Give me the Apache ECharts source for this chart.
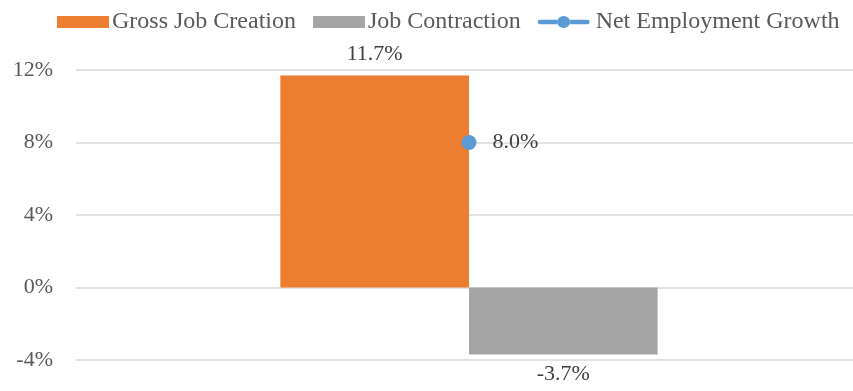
<!DOCTYPE html>
<html>
<head>
<meta charset="utf-8">
<script src="https://cdn.jsdelivr.net/npm/echarts@6/dist/echarts.min.js"></script>
<style>
html,body{margin:0;padding:0;background:#fff;}
#chart{width:853px;height:391px;}
</style>
</head>
<body>
<div id="chart"></div>
<script>
// Employment dynamics, single period
const categories = [''];
const grossJobCreation = [11.7];
const jobContraction = [-3.7];
const netEmploymentGrowth = [8.0];
const yTicks = [-4, 0, 4, 8, 12];

const font = '"Liberation Serif", "Times New Roman", serif';
const textColor = '#595959';
const labelColor = '#404040';
const pct1 = p => p.value.toFixed(1) + '%';

// legend marker for the line series: thick round-capped segment with a dot in the middle
const lineDotIcon = 'path://M2.5,4H19.5V9H2.5a2.5,2.5 0 0,1 0,-5Z' +
  'M32.5,4H49.5a2.5,2.5 0 0,1 0,5H32.5Z' +
  'M19.5,6.5a6.5,6.5 0 1,0 13,0a6.5,6.5 0 1,0 -13,0Z';

const chart = echarts.init(document.getElementById('chart'));
chart.setOption({
  animation: false,
  textStyle: { fontFamily: font },
  legend: {
    top: 5,
    left: 52,
    itemWidth: 52,
    itemHeight: 12,
    itemGap: 17,
    symbolKeepAspect: false,
    textStyle: { fontFamily: font, fontSize: 24, color: textColor, padding: [0, 0, 0, -2] },
    data: [
      { name: 'Gross Job Creation', icon: 'rect' },
      { name: 'Job Contraction', icon: 'rect' },
      { name: 'Net Employment Growth', icon: lineDotIcon, textStyle: { padding: [0, 0, 0, 1] } }
    ]
  },
  grid: { left: 76, right: -9, top: 70, bottom: 31, containLabel: false, outerBoundsMode: 'none' },
  xAxis: {
    type: 'category',
    data: categories,
    axisLine: { show: false },
    axisTick: { show: false },
    axisLabel: { show: false }
  },
  yAxis: {
    type: 'value',
    min: yTicks[0],
    max: yTicks[yTicks.length - 1],
    interval: 4,
    axisLine: { show: false },
    axisTick: { show: false },
    axisLabel: {
      formatter: v => v + '%',
      fontFamily: font,
      fontSize: 22,
      color: textColor,
      margin: 23
    },
    splitLine: { lineStyle: { color: '#d9d9d9', width: 1.5 } }
  },
  series: [
    {
      name: 'Gross Job Creation',
      type: 'bar',
      data: grossJobCreation,
      barGap: '0%',
      barCategoryGap: '52%',
      itemStyle: { color: '#ED7D31' },
      label: {
        show: true, position: 'top', distance: 10, formatter: pct1,
        fontFamily: font, fontSize: 22, color: labelColor
      }
    },
    {
      name: 'Job Contraction',
      type: 'bar',
      data: jobContraction,
      itemStyle: { color: '#A5A5A5' },
      label: {
        show: true, position: 'bottom', distance: 9, formatter: pct1,
        fontFamily: font, fontSize: 22, color: labelColor
      }
    },
    {
      name: 'Net Employment Growth',
      type: 'line',
      data: netEmploymentGrowth,
      symbol: 'circle',
      symbolSize: 15,
      itemStyle: { color: '#5B9BD5' },
      lineStyle: { color: '#5B9BD5', width: 4 },
      label: {
        show: true, position: 'right', distance: 16, formatter: pct1,
        fontFamily: font, fontSize: 22, color: labelColor
      },
      z: 5
    }
  ]
});
</script>
</body>
</html>
